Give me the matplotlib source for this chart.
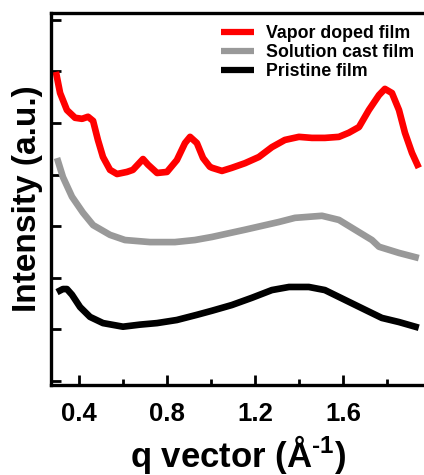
import matplotlib
matplotlib.use("Agg")
import matplotlib.pyplot as plt

plt.rcParams['font.family'] = ['Liberation Sans', 'DejaVu Sans']
plt.rcParams['font.weight'] = 'bold'
plt.rcParams['mathtext.fontset'] = 'custom'
plt.rcParams['mathtext.rm'] = 'Liberation Sans:bold'
plt.rcParams['mathtext.bf'] = 'Liberation Sans:bold'
plt.rcParams['mathtext.default'] = 'bf'

# Vapor doped film
q_vapor = [0.295, 0.314, 0.345, 0.382, 0.414, 0.441, 0.464, 0.486, 0.509, 0.541,
           0.573, 0.618, 0.645, 0.691, 0.714, 0.755, 0.800, 0.845, 0.882, 0.905,
           0.936, 0.964, 0.995, 1.005, 1.050, 1.095, 1.155, 1.218, 1.277, 1.336,
           1.400, 1.459, 1.518, 1.582, 1.627, 1.673, 1.718, 1.764, 1.791, 1.823,
           1.855, 1.882, 1.914, 1.945]
i_vapor = [5.99, 5.58, 5.25, 5.10, 5.08, 5.12, 5.04, 4.67, 4.34, 4.09,
           4.01, 4.05, 4.09, 4.30, 4.19, 4.03, 4.05, 4.28, 4.61, 4.73,
           4.61, 4.32, 4.15, 4.13, 4.07, 4.13, 4.22, 4.34, 4.53, 4.67,
           4.73, 4.71, 4.71, 4.73, 4.81, 4.92, 5.25, 5.54, 5.66, 5.58,
           5.25, 4.81, 4.42, 4.13]

# Solution cast film
q_solution = [0.300, 0.327, 0.368, 0.418, 0.464, 0.541, 0.609, 0.723, 0.836, 0.927,
              1.005, 1.155, 1.309, 1.382, 1.505, 1.582, 1.655, 1.732, 1.764, 1.855,
              1.945]
i_solution = [4.32, 3.95, 3.57, 3.26, 3.02, 2.83, 2.73, 2.69, 2.69, 2.73,
              2.79, 2.93, 3.08, 3.16, 3.20, 3.12, 2.93, 2.73, 2.60, 2.48,
              2.38]

# Pristine film
q_pristine = [0.300, 0.327, 0.345, 0.368, 0.405, 0.450, 0.509, 0.600, 0.677, 0.755,
              0.845, 0.936, 1.005, 1.095, 1.186, 1.277, 1.355, 1.445, 1.518, 1.609,
              1.700, 1.777, 1.855, 1.945]
i_pristine = [1.72, 1.78, 1.78, 1.67, 1.43, 1.24, 1.12, 1.05, 1.09, 1.12,
              1.18, 1.28, 1.36, 1.47, 1.61, 1.76, 1.82, 1.82, 1.76, 1.57,
              1.38, 1.22, 1.14, 1.03]

labels = ['Vapor doped film', 'Solution cast film', 'Pristine film']
colors = ['#ff0000', '#999999', '#000000']

x_major = [0.4, 0.8, 1.2, 1.6]
x_minor = [0.6, 1.0, 1.4, 1.8]
y_ticks = [0, 1, 2, 3, 4, 5, 6, 7]

fig = plt.figure(figsize=(4.24, 4.75), dpi=100)
ax = fig.add_axes([0.1203, 0.1895, 0.884, 0.783])

for q, inten, lab, col in zip([q_vapor, q_solution, q_pristine],
                              [i_vapor, i_solution, i_pristine],
                              labels, colors):
    ax.plot(q, inten, color=col, lw=4.8, label=lab, solid_capstyle='butt')

ax.set_xlim(0.2727, 1.977)
ax.set_ylim(-0.08, 7.13)

ax.set_xticks(x_major)
ax.set_xticklabels(['0.4', '0.8', '1.2', '1.6'])
ax.set_xticks(x_minor, minor=True)
ax.set_yticks(y_ticks)
ax.set_yticklabels([])

for s in ax.spines.values():
    s.set_linewidth(2.4)

ax.tick_params(axis='x', which='major', direction='in', length=7, width=2,
               labelsize=18.5, pad=12)
ax.tick_params(axis='x', which='minor', direction='in', length=4, width=2)
ax.tick_params(axis='y', which='major', direction='in', length=7, width=2)

ax.set_xlabel(r'q vector (Å$^{\text{-1}}$)', fontsize=25, fontweight='bold', labelpad=5)
ax.set_ylabel('Intensity (a.u.)', fontsize=24, fontweight='bold', labelpad=2)

leg = ax.legend(loc='upper right', bbox_to_anchor=(0.985, 0.955),
                bbox_transform=fig.transFigure, frameon=False,
                prop={'size': 12.8, 'weight': 'bold'},
                handlelength=1.85, handletextpad=0.67, labelspacing=0.12,
                borderaxespad=0.0, borderpad=0.2)
for line in leg.get_lines():
    line.set_linewidth(4.5)

fig.savefig('out.png', dpi=100)
